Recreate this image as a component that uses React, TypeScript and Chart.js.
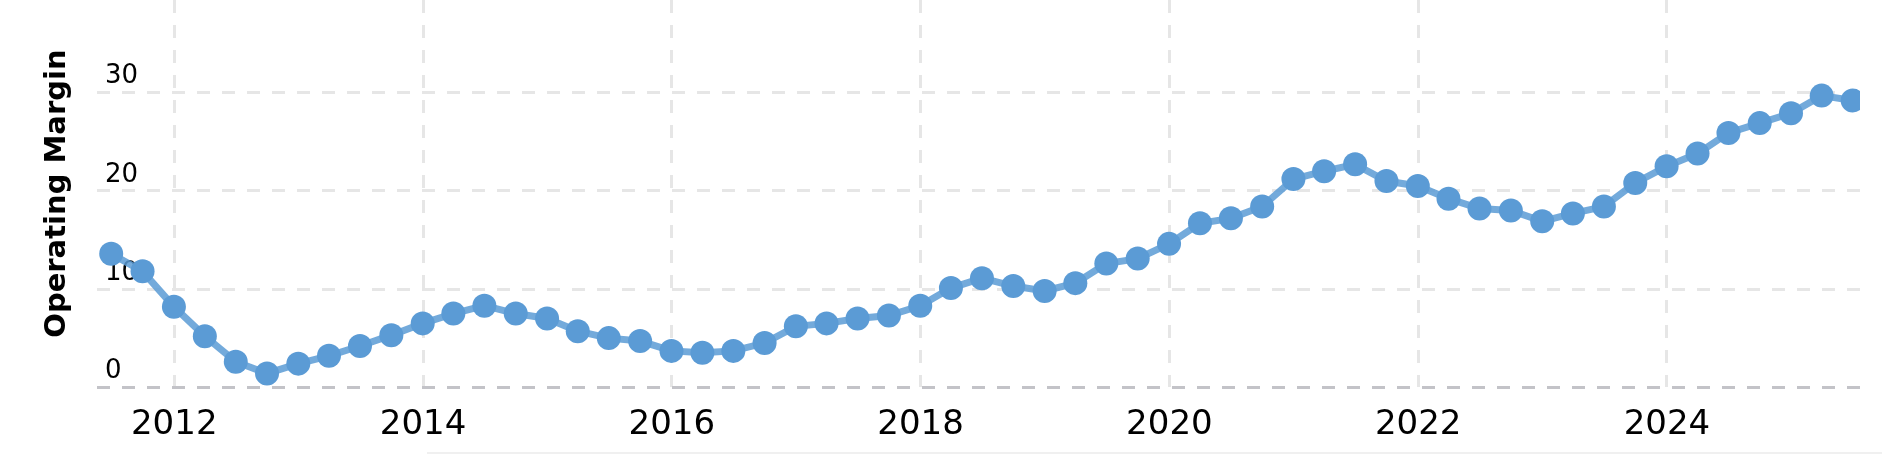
import React, { useEffect, useRef } from "react";
import { Chart, registerables } from "chart.js";

Chart.register(...registerables);

const quarterEnds: string[] = [
  "2011-06-30", "2011-09-30", "2011-12-31",
  "2012-03-31", "2012-06-30", "2012-09-30", "2012-12-31",
  "2013-03-31", "2013-06-30", "2013-09-30", "2013-12-31",
  "2014-03-31", "2014-06-30", "2014-09-30", "2014-12-31",
  "2015-03-31", "2015-06-30", "2015-09-30", "2015-12-31",
  "2016-03-31", "2016-06-30", "2016-09-30", "2016-12-31",
  "2017-03-31", "2017-06-30", "2017-09-30", "2017-12-31",
  "2018-03-31", "2018-06-30", "2018-09-30", "2018-12-31",
  "2019-03-31", "2019-06-30", "2019-09-30", "2019-12-31",
  "2020-03-31", "2020-06-30", "2020-09-30", "2020-12-31",
  "2021-03-31", "2021-06-30", "2021-09-30", "2021-12-31",
  "2022-03-31", "2022-06-30", "2022-09-30", "2022-12-31",
  "2023-03-31", "2023-06-30", "2023-09-30", "2023-12-31",
  "2024-03-31", "2024-06-30", "2024-09-30", "2024-12-31",
  "2025-03-31", "2025-06-30",
];

const operatingMargin: number[] = [
  13.6, 11.8, 8.2,
  5.2, 2.6, 1.4, 2.4,
  3.2, 4.2, 5.3, 6.5,
  7.5, 8.3, 7.5, 7.0,
  5.7, 5.0, 4.7, 3.7,
  3.5, 3.7, 4.5, 6.2,
  6.5, 7.0, 7.3, 8.3,
  10.1, 11.1, 10.3, 9.8,
  10.6, 12.6, 13.1, 14.6,
  16.7, 17.2, 18.4, 21.2,
  22.0, 22.7, 21.0, 20.5,
  19.2, 18.2, 18.0, 16.9,
  17.7, 18.4, 20.8, 22.5,
  23.8, 25.9, 26.9, 27.9,
  29.7, 29.2,
];

const yTicks: number[] = [0, 10, 20, 30];
const xTickStep = 2;
const xMin = 2011.379;
const xMax = 2025.552;
const yMin = 0;
const yMax = 39.44;
const yTitle = "Operating Margin";

function toDecimalYear(s: string): number {
  const d = new Date(s + "T00:00:00Z");
  const y = d.getUTCFullYear();
  const start = Date.UTC(y, 0, 1);
  const end = Date.UTC(y + 1, 0, 1);
  return y + (d.getTime() - start) / (end - start);
}

export default function App() {
  const canvasRef = useRef<HTMLCanvasElement | null>(null);

  useEffect(() => {
    if (!canvasRef.current) return;
    const points = quarterEnds.map((q, i) => ({ x: toDecimalYear(q), y: operatingMargin[i] }));
    const chart = new Chart(canvasRef.current, {
      type: "line",
      data: {
        datasets: [
          {
            data: points,
            borderColor: "rgba(91,155,213,0.85)",
            borderWidth: 7,
            pointRadius: 12,
            pointHoverRadius: 12,
            pointBackgroundColor: "#5b9bd5",
            pointBorderWidth: 0,
            tension: 0,
            fill: false,
          },
        ],
      },
      options: {
        animation: false,
        responsive: true,
        maintainAspectRatio: false,
        events: [],
        layout: { padding: { left: 0, right: 22, top: 0, bottom: 0 } },
        plugins: { legend: { display: false }, tooltip: { enabled: false } },
        scales: {
          x: {
            type: "linear",
            min: xMin,
            max: xMax,
            grid: {
              color: "#e6e6e6",
              lineWidth: 3,
              drawTicks: true,
              tickLength: 8,
              tickColor: "rgba(0,0,0,0)",
            },
            border: { display: false, dash: [13, 12] },
            ticks: {
              stepSize: xTickStep,
              includeBounds: false,
              padding: 10,
              color: "#000",
              font: { family: "'DejaVu Sans', Verdana, sans-serif", size: 34, lineHeight: 1.2 },
              maxRotation: 0,
              autoSkip: false,
              callback: (v: any) => String(v),
            },
          },
          y: {
            type: "linear",
            min: yMin,
            max: yMax,
            afterBuildTicks: (axis: any) => {
              axis.ticks = yTicks.map((v) => ({ value: v }));
            },
            grid: {
              color: (ctx: any) => (ctx.tick && ctx.tick.value === 0 ? "#c3c3c8" : "#e6e6e6"),
              lineWidth: 3,
              drawTicks: false,
            },
            border: { display: false, dash: [13, 12] },
            ticks: {
              mirror: true,
              padding: 8,
              labelOffset: -16,
              includeBounds: false,
              color: "#000",
              font: { family: "'DejaVu Sans', Verdana, sans-serif", size: 26, lineHeight: 1 },
              callback: (v: any) => String(v),
            },
            title: {
              display: true,
              text: yTitle,
              color: "#000",
              padding: { top: 39.6, bottom: 6.6 },
              font: { family: "'DejaVu Sans', Verdana, sans-serif", size: 29, weight: "bold", lineHeight: 1.2 },
            },
          },
        },
      },
    });
    return () => chart.destroy();
  }, []);

  return (
    <div style={{ position: "fixed", left: 0, top: 0, width: 1882, height: 456, overflow: "hidden", background: "#fff" }}>
      <div style={{ position: "absolute", left: 0, top: -21, width: 1882, height: 477 }}>
        <canvas ref={canvasRef} />
      </div>
      <div style={{ position: "absolute", left: 427, top: 452, right: 0, height: 2, background: "#f0f0f0" }} />
    </div>
  );
}
